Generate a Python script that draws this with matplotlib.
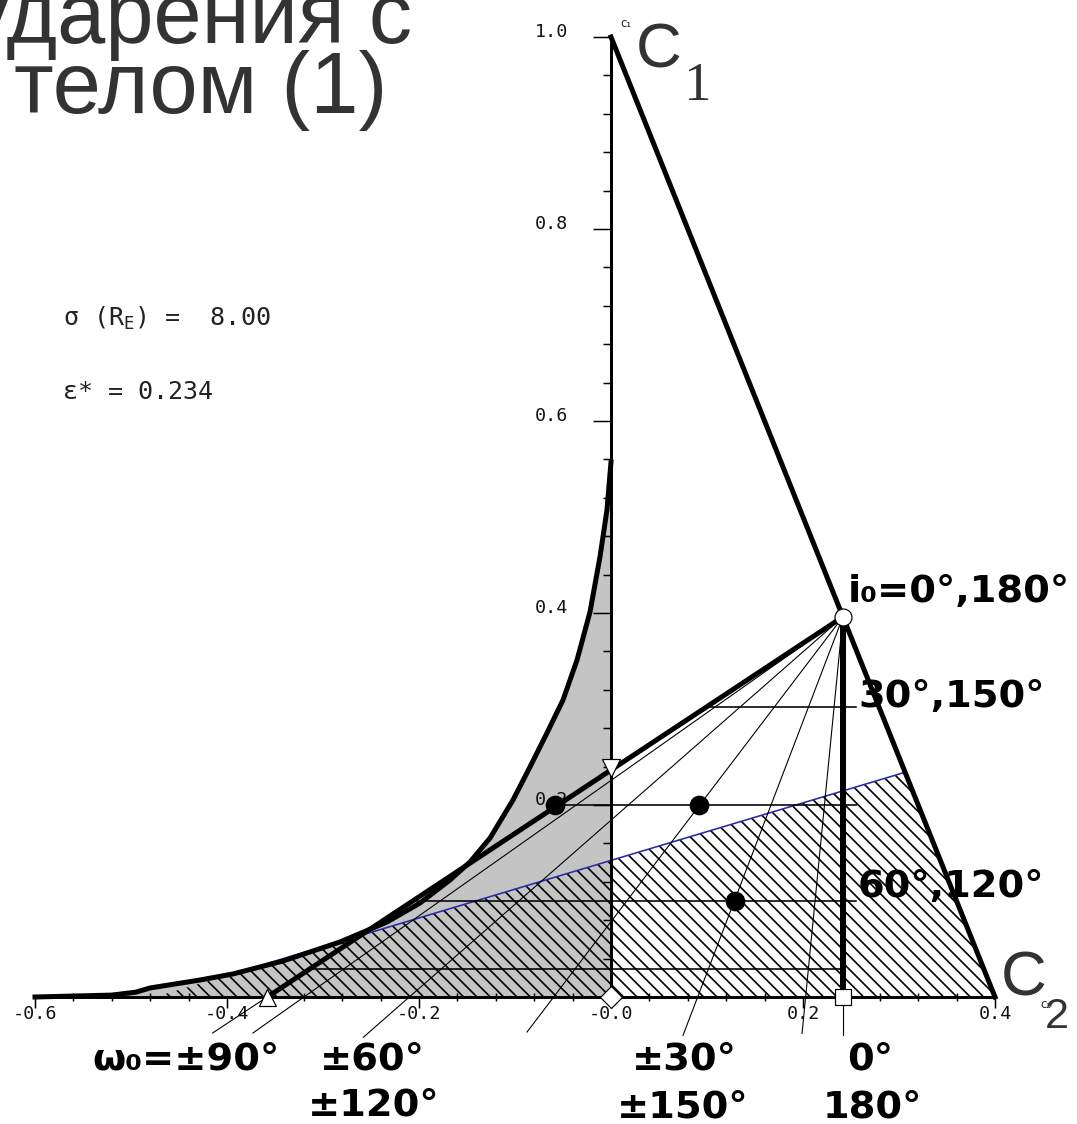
import numpy as np
import matplotlib
matplotlib.use('Agg')
import matplotlib.pyplot as plt
from matplotlib.transforms import ScaledTranslation

W, H, DPI = 1077, 1124, 120
PT = 72.0 / DPI  # points per pixel

# ---------------- data ----------------
c1_x, c1_y = 0.0, 1.0
c2_x, c2_y = 0.4, 0.0
p_x, p_y = 0.2416, 0.396                      # i0 = 0°,180° point

curve_x = [-0.600, -0.520, -0.495, -0.4802, -0.4281, -0.3938, -0.3417, -0.2823,
           -0.2333, -0.1990, -0.1677, -0.1469, -0.1260, -0.1021, -0.0844,
           -0.0667, -0.0500, -0.0354, -0.0219, -0.0115, -0.0042, 0.0000]
curve_y = [0.000, 0.002, 0.005, 0.0094, 0.0177, 0.0240, 0.0375, 0.0573,
           0.0781, 0.0979, 0.1219, 0.1406, 0.1656, 0.2052, 0.2396,
           0.2750, 0.3094, 0.3510, 0.4010, 0.4583, 0.5073, 0.5573]

blue_x = [-0.358, 0.306]
blue_y = [0.035, 0.234]

thick_end_x, thick_end_y = -0.358, 0.0       # omega0 = ±90° (triangle)
fan_end_x = [-0.415, -0.373, -0.258, -0.0875, 0.075, 0.199, 0.2416]
fan_end_y = [-0.0375, -0.0375, -0.042, -0.0365, -0.040, -0.038, -0.040]

h_levels = [0.302, 0.200, 0.100, 0.029]
h_right = [0.255, 0.255, 0.255, 0.2416]

dots_x = [-0.058, 0.092, 0.129]
dots_y = [0.200, 0.200, 0.100]

tri_down_x, tri_down_y = 0.0, 0.2385
diamond_x, diamond_y = 0.0, 0.0
square_x, square_y = 0.2416, 0.0

xtick_pos = [-0.6, -0.4, -0.2, 0.0, 0.2, 0.4]
xtick_lab = ["-0.6", "-0.4", "-0.2", "-0.0", "0.2", "0.4"]
ytick_pos = [0.2, 0.4, 0.6, 0.8, 1.0]
ytick_lab = ["0.2", "0.4", "0.6", "0.8", "1.0"]

# ---------------- figure ----------------
plt.rcParams['hatch.linewidth'] = 1.0
fig = plt.figure(figsize=(W / DPI, H / DPI), dpi=DPI)
ax = fig.add_axes([0, 0, 1, 1])
ax.set_xlim(-611 / 960, (W - 611) / 960)
ax.set_ylim(-(H - 997) / 960, 997 / 960)
ax.set_facecolor('white')

# gray cusp region
ax.fill(curve_x + [0.0], curve_y + [0.0], color='#c4c4c4', lw=0, zorder=1)

# hatched region: below blue line, below the cusp curve, inside C1-C2 edge
xs = np.linspace(-0.6, 0.4, 2001)
blue_top = blue_y[0] + (blue_y[1] - blue_y[0]) / (blue_x[1] - blue_x[0]) * (xs - blue_x[0])
curve_top = np.interp(xs, curve_x, curve_y, right=10.0)
edge_top = c1_y * (1 - xs / c2_x)
top = np.clip(np.minimum(np.minimum(blue_top, curve_top), edge_top), 0, None)
ax.fill_between(xs, 0, top, facecolor='none', edgecolor='black', lw=0,
                hatch='\\\\\\', zorder=2)

# blue line
ax.plot(blue_x, blue_y, color='#2a2aa8', lw=1.6 * PT, zorder=3)

# fan lines from P
for ex, ey in zip(fan_end_x, fan_end_y):
    ax.plot([p_x, ex], [p_y, ey], color='black', lw=1.1 * PT, zorder=3)

# horizontal lines starting on the thick line
slope = (p_x - thick_end_x) / (p_y - thick_end_y)
for hy, hr in zip(h_levels, h_right):
    hx0 = thick_end_x + slope * (hy - thick_end_y)
    ax.plot([hx0, hr], [hy, hy], color='black', lw=1.6 * PT, zorder=3)

# thick lines
ax.plot(curve_x, curve_y, color='black', lw=5 * PT, zorder=4,
        solid_joinstyle='round')
ax.plot([c1_x, c2_x], [c1_y, c2_y], color='black', lw=5 * PT, zorder=4)
ax.plot([p_x, thick_end_x], [p_y, thick_end_y], color='black', lw=5 * PT, zorder=4)
ax.plot([p_x, square_x], [p_y, square_y], color='black', lw=6 * PT, zorder=4)

# markers
ax.plot([thick_end_x], [thick_end_y], marker='^', ms=17 * PT, mfc='white',
        mec='black', mew=1.2 * PT, ls='none', zorder=6)
ax.plot([tri_down_x], [tri_down_y], marker='v', ms=18 * PT, mfc='white',
        mec='black', mew=1.2 * PT, ls='none', zorder=6)
ax.plot([diamond_x], [diamond_y], marker='D', ms=15 * PT, mfc='white',
        mec='black', mew=1.2 * PT, ls='none', zorder=6)
ax.plot([square_x], [square_y], marker='s', ms=16 * PT, mfc='white',
        mec='black', mew=1.2 * PT, ls='none', zorder=6)
ax.plot([p_x], [p_y], marker='o', ms=17 * PT, mfc='white',
        mec='black', mew=1.2 * PT, ls='none', zorder=6)
ax.plot(dots_x, dots_y, marker='o', ms=18 * PT, color='black', ls='none', zorder=6)

# axes / spines
for s in ['top', 'right']:
    ax.spines[s].set_visible(False)
ax.spines['left'].set_position(('data', 0))
ax.spines['bottom'].set_position(('data', 0))
ax.spines['left'].set_bounds(0, 1.0)
ax.spines['bottom'].set_bounds(-0.6, 0.4)
ax.spines['left'].set_linewidth(3 * PT)
ax.spines['bottom'].set_linewidth(3 * PT)
ax.spines['left'].set_zorder(5)
ax.spines['bottom'].set_zorder(5)

ax.set_xticks(xtick_pos, xtick_lab)
ax.set_xticks(np.arange(-0.6, 0.401, 0.04), minor=True)
ax.set_yticks(ytick_pos, ytick_lab)
ax.set_yticks(np.arange(0.0, 1.001, 0.04), minor=True)
ax.tick_params(axis='x', which='major', direction='out', length=11 * PT,
               width=1.5 * PT, pad=-3 * PT, labelsize=11, labelcolor='#111111')
ax.tick_params(axis='x', which='minor', direction='inout', length=9 * PT,
               width=1.5 * PT)
ax.tick_params(axis='y', which='major', direction='out', length=18 * PT,
               width=1.5 * PT, pad=25 * PT, labelsize=11, labelcolor='#111111')
ax.tick_params(axis='y', which='minor', direction='out', length=8 * PT,
               width=1.5 * PT)
for lab in ax.get_xticklabels() + ax.get_yticklabels():
    lab.set_family('DejaVu Sans Mono')
for lab in ax.get_yticklabels():
    lab.set_transform(lab.get_transform() + ScaledTranslation(0, 7 / DPI, fig.dpi_scale_trans))
    lab.set_zorder(3)


def fx(px):
    return px / W


def fy(py):
    return 1 - py / H


# slide title text
ax.text(fx(412), fy(43), "ударения с", transform=ax.transAxes, ha='right',
        va='baseline', fontsize=52, family='Liberation Sans', color='#333333')
ax.text(fx(14), fy(113), "телом (1)", transform=ax.transAxes, ha='left',
        va='baseline', fontsize=52, family='Liberation Sans', color='#333333')

# C1 / C2
ax.text(fx(620), fy(27), "c₁", transform=ax.transAxes, ha='left', va='baseline',
        fontsize=7, family=['DejaVu Sans'], color='#222222')
ax.text(fx(636), fy(68), "C", transform=ax.transAxes, ha='left', va='baseline',
        fontsize=38, family='Liberation Sans', color='#333333')
ax.text(fx(683), fy(100), "1", transform=ax.transAxes, ha='left', va='baseline',
        fontsize=33, family='Liberation Serif', color='#333333')
ax.text(fx(1040), fy(1008), "c₂", transform=ax.transAxes, ha='left', va='baseline',
        fontsize=7, family=['DejaVu Sans'], color='#222222')
ax.text(fx(1001), fy(995), "C", transform=ax.transAxes, ha='left', va='baseline',
        fontsize=38, family='Liberation Sans', color='#333333')
ax.text(fx(1045), fy(1028), "2", transform=ax.transAxes, ha='left', va='baseline',
        fontsize=26, family='Liberation Sans', color='#333333')

# parameter text
ax.text(fx(63), fy(318), "σ (R$_\\mathregular{E}$) =  8.00", transform=ax.transAxes,
        ha='left', va='center', fontsize=15, family='DejaVu Sans Mono', color='#222222')
ax.text(fx(63), fy(392), "ε* = 0.234", transform=ax.transAxes,
        ha='left', va='center', fontsize=15, family='DejaVu Sans Mono', color='#222222')

# bold annotation labels
bold_fam = ['DejaVu Sans']
labels = [
    ("i₀=0°,180°", 848, 592, 'left'),
    ("30°,150°", 858, 697, 'left'),
    ("60°,120°", 858, 887, 'left'),
    ("ω₀=±90°", 186, 1059, 'center'),
    ("±60°", 372, 1059, 'center'),
    ("±120°", 374, 1105, 'center'),
    ("±30°", 684, 1059, 'center'),
    ("±150°", 683, 1107, 'center'),
    ("0°", 870, 1059, 'center'),
    ("180°", 872, 1107, 'center'),
]
for txt, px, py, ha in labels:
    ax.text(fx(px), fy(py), txt, transform=ax.transAxes, ha=ha, va='center',
            fontsize=23, fontweight='bold', family=bold_fam, color='black',
            zorder=7)

fig.savefig('out.png', dpi=DPI, facecolor='white')
